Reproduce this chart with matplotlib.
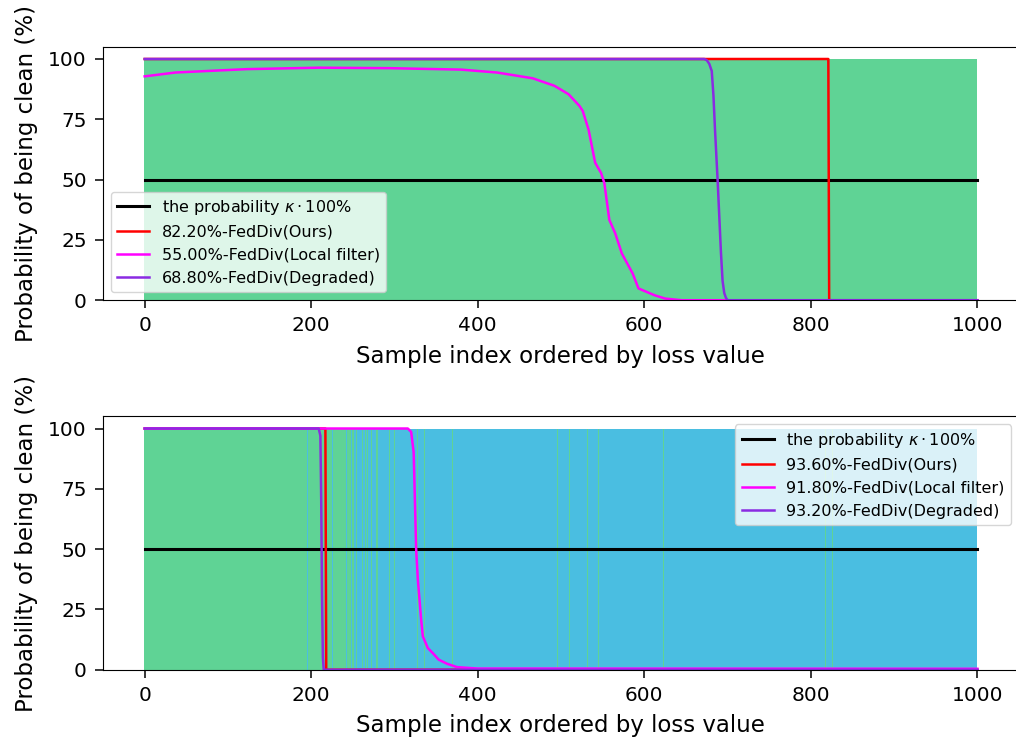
import numpy as np
import matplotlib
matplotlib.use("Agg")
import matplotlib.pyplot as plt

# sample indices ordered by loss value
n_samples = 1000
idx = np.arange(n_samples)

clean_color = "#5FD395"
noisy_color = "#4ABEE1"

# top: every sample is clean
top_noisy = []
# bottom: noisy samples (blue) / clean samples (green)
bot_noisy_early = [177, 196, 226, 242, 243, 248, 249, 252, 253]
bot_noisy_start = 256
bot_clean_late = [262, 265, 268, 272, 278, 280, 294, 300, 303, 328, 336, 339,
                  370, 440, 496, 510, 532, 545, 614, 623, 818, 826]

legend_kappa = r"the probability $\kappa\cdot$100%"
top_labels = ["82.20%-FedDiv(Ours)", "55.00%-FedDiv(Local filter)", "68.80%-FedDiv(Degraded)"]
bot_labels = ["93.60%-FedDiv(Ours)", "91.80%-FedDiv(Local filter)", "93.20%-FedDiv(Degraded)"]
kappa = 50

# top curves (x, y in %)
top_ours_x = [0, 821, 822, 1000]
top_ours_y = [100, 100, 0, 0]
top_local_x = [0, 37, 123, 209, 294, 380, 423, 466, 492, 509, 522, 526, 533, 541, 548,
               552, 558, 565, 573, 586, 593, 612, 625, 645, 1000]
top_local_y = [92.8, 94.4, 95.8, 96.4, 96.2, 95.6, 94.4, 92.0, 88.9, 85.4, 80.6, 78.5,
               70.8, 57.0, 52.8, 48.6, 33.3, 27.8, 19.4, 11.1, 4.9, 2.1, 0.7, 0, 0]
top_deg_x = [0, 672, 675, 678, 681, 683, 685, 688, 690, 692, 694, 696, 698, 700, 1000]
top_deg_y = [100, 100, 99.5, 98, 95, 85, 70, 50, 35, 20, 8, 3, 1, 0, 0]

# bottom curves
bot_ours_x = [0, 217, 218, 1000]
bot_ours_y = [100, 100, 0, 0]
bot_local_x = [0, 316, 320, 323, 326, 328, 332, 334, 340, 346, 353, 363, 375, 391, 400, 1000]
bot_local_y = [100, 100, 98.6, 90.3, 50, 37.5, 20.8, 13.9, 9, 6.9, 4.2, 2.5, 1.1, 0.7, 0.5, 0.4]
bot_deg_x = [0, 209, 211, 212, 213, 214, 215, 1000]
bot_deg_y = [100, 100, 97, 70, 30, 5, 0, 0]

top_is_clean = np.ones(n_samples, dtype=bool)
top_is_clean[top_noisy] = False
bot_is_clean = np.ones(n_samples, dtype=bool)
bot_is_clean[bot_noisy_early] = False
bot_is_clean[bot_noisy_start:] = False
bot_is_clean[bot_clean_late] = True

plt.rcParams['font.family'] = ['DejaVu Sans']
fig = plt.figure(figsize=(10.16, 7.45), dpi=100)
ax1 = fig.add_axes([0.101, 0.597, 0.902, 0.340])
ax2 = fig.add_axes([0.101, 0.101, 0.902, 0.340])

panels = [
    (ax1, top_is_clean, top_ours_x, top_ours_y, top_local_x, top_local_y,
     top_deg_x, top_deg_y, top_labels, "lower left"),
    (ax2, bot_is_clean, bot_ours_x, bot_ours_y, bot_local_x, bot_local_y,
     bot_deg_x, bot_deg_y, bot_labels, "upper right"),
]
for ax, is_clean, ox, oy, lx, ly, dx, dy, labels, loc in panels:
    colors = np.where(is_clean, clean_color, noisy_color)
    ax.bar(idx, 100, width=1.0, color=colors, linewidth=0)
    ax.plot([0, n_samples], [kappa, kappa], color="black", lw=2.2, label=legend_kappa)
    ax.plot(ox, oy, color="red", lw=1.8, label=labels[0])
    ax.plot(lx, ly, color="magenta", lw=1.8, label=labels[1])
    ax.plot(dx, dy, color="blueviolet", lw=1.8, label=labels[2])
    ax.set_ylim(0, 105)
    ax.set_yticks([0, 25, 50, 75, 100])
    ax.set_xticks([0, 200, 400, 600, 800, 1000])
    ax.tick_params(labelsize=14.5, length=5.5, pad=6, width=1.1)
    ax.set_xlabel("Sample index ordered by loss value", fontsize=16.5, labelpad=7)
    ax.set_ylabel("Probability of being clean (%)", fontsize=16.5, labelpad=7)
    ax.legend(loc=loc, fontsize=11.5)

fig.savefig("out.png", dpi=100)
